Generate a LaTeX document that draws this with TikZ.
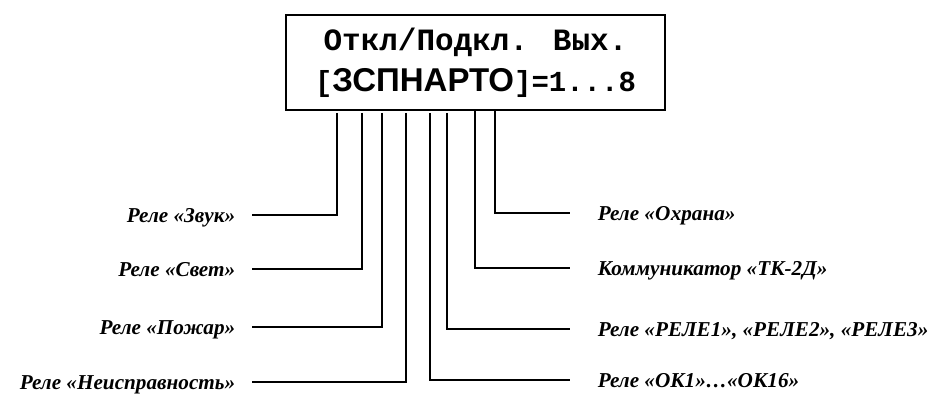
\documentclass[tikz,border=0pt]{standalone}
\usepackage{fontspec}
\setmainfont{Liberation Serif}
\newfontfamily\monofont{Liberation Mono}
\newfontfamily\sansfont{Liberation Sans}
\usetikzlibrary{positioning}

\tikzset{
  lbl/.style={font=\fontsize{21.2}{24}\selectfont\bfseries\itshape,
    inner ysep=0pt, text height=15pt, text depth=0pt},
  lleft/.style={lbl, anchor=east, inner xsep=16pt},
  lright/.style={lbl, anchor=west, inner xsep=27pt}
}

\begin{document}
\begin{tikzpicture}[x=1pt,y=-1pt,line width=1.6pt]
    \useasboundingbox (0,0) rectangle (933,394);
    \node[draw, minimum width=379pt, minimum height=95pt, inner sep=0pt, align=center,
      font=\monofont\bfseries\fontsize{31}{41}\selectfont] (panel) at (475.5,62.5)
      {Откл/Подкл. Вых.\\{\fontsize{29}{41}\selectfont[{\sansfont\fontsize{33}{41}\selectfont ЗСПНАРТО}]=1...8}};
    \node[lleft] (zvuk) at (252,215) {Реле «Звук»};
    \node[lleft] (svet) at (252,269) {Реле «Свет»};
    \node[lleft] (pozhar) at (252,327) {Реле «Пожар»};
    \node[lleft] (neispr) at (252,382) {Реле «Неисправность»};
    \node[lright] (ohrana) at (570,213) {Реле «Охрана»};
    \node[lright] (tk) at (570,268) {Коммуникатор «ТК-2Д»};
    \node[lright] (rele) at (570,329) {Реле «РЕЛЕ1», «РЕЛЕ2», «РЕЛЕ3»};
    \node[lright] (ok) at (570,380) {Реле «ОК1»…«ОК16»};
    \foreach \dx/\gap/\dest in {52/2/zvuk.east, 77/2/svet.east, 97/2/pozhar.east,
      121/2/neispr.east, 145/2/ok.west, 162/2/rele.west, 190/0/tk.west, 210/0/ohrana.west}
    \draw ([xshift=\dx pt, yshift=-\gap pt]panel.south west) |- (\dest);
\end{tikzpicture}
\end{document}
